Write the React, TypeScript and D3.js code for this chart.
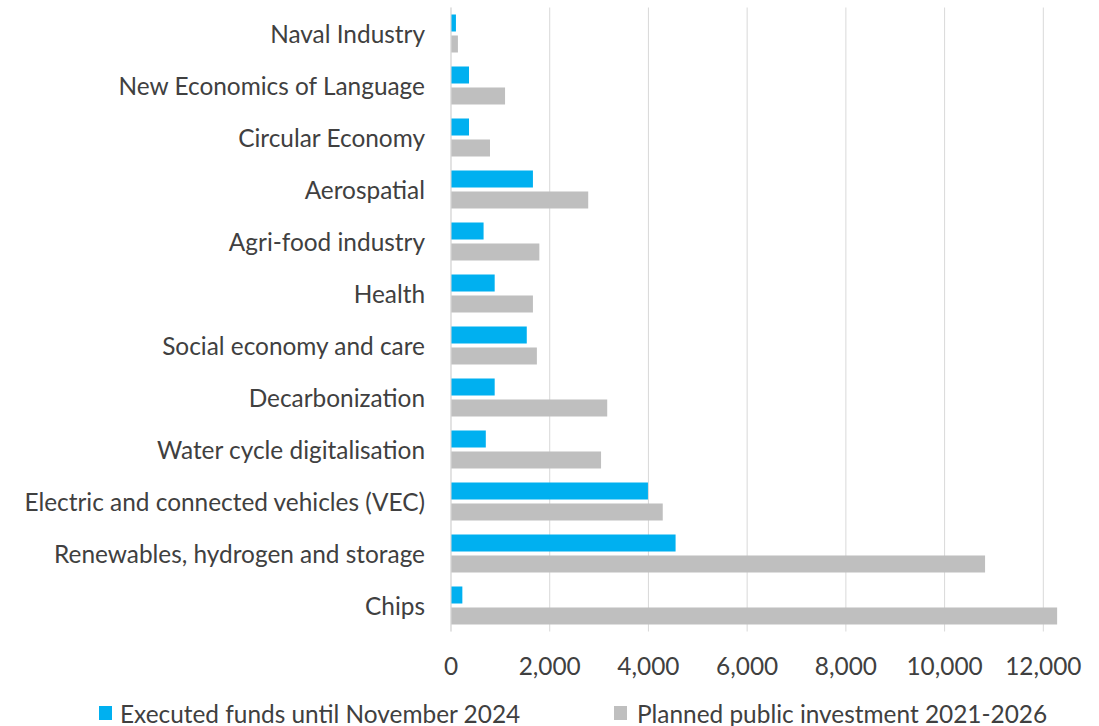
import React from "react";
import * as d3 from "d3";

const categories = [
  "Naval Industry",
  "New Economics of Language",
  "Circular Economy",
  "Aerospatial",
  "Agri-food industry",
  "Health",
  "Social economy and care",
  "Decarbonization",
  "Water cycle digitalisation",
  "Electric and connected vehicles (VEC)",
  "Renewables, hydrogen and storage",
  "Chips",
];
const executed = [100, 365, 365, 1660, 660, 885, 1535, 885, 705, 3990, 4550, 230];
const planned = [140, 1095, 790, 2780, 1790, 1660, 1740, 3165, 3040, 4290, 10820, 12280];
const seriesNames = ["Executed funds until November 2024", "Planned public investment 2021-2026"];
const seriesColors = ["#00B0F0", "#BFBFBF"];
const xTicks = [0, 2000, 4000, 6000, 8000, 10000, 12000];

const W = 1099;
const H = 726;
const left = 451;
const right = 1043.3;
const top = 7.5;
const bottom = 631.5;
const FONT = "Lato, 'Open Sans', sans-serif";
const TEXT = "#404040";
const FS = 24.4;

export default function App() {
  const x = d3.scaleLinear().domain([0, 12000]).range([left, right]);
  const y = d3.scaleBand<string>().domain(categories).range([top, bottom]).paddingInner(0).paddingOuter(0);
  const inner = d3
    .scaleBand<string>()
    .domain(["0", "1"])
    .range([7, y.bandwidth() - 7])
    .paddingInner(0.19)
    .paddingOuter(0);
  const fmt = d3.format(",");
  const series = [executed, planned];

  return (
    <svg width={W} height={H} style={{ position: "absolute", left: 0, top: 0, background: "#fff" }}>
      {xTicks.map((t) => (
        <line key={"g" + t} x1={x(t)} x2={x(t)} y1={top} y2={bottom} stroke="#D9D9D9" strokeWidth={1} />
      ))}
      {categories.map((c, i) => (
        <g key={c}>
          {series.map((s, k) => (
            <rect
              key={k}
              x={x(0)}
              y={(y(c) as number) + (inner(String(k)) as number)}
              width={x(s[i]) - x(0)}
              height={inner.bandwidth()}
              fill={seriesColors[k]}
            />
          ))}
          <text
            x={425}
            y={(y(c) as number) + y.bandwidth() / 2}
            textAnchor="end"
            dominantBaseline="central"
            fontFamily={FONT}
            fontSize={FS}
            fill={TEXT}
          >
            {c}
          </text>
        </g>
      ))}
      <line x1={x(0)} x2={x(0)} y1={top} y2={bottom} stroke="#D9D9D9" strokeWidth={1} />
      {xTicks.map((t) => (
        <text
          key={"t" + t}
          x={x(t)}
          y={665}
          textAnchor="middle"
          dominantBaseline="central"
          fontFamily={FONT}
          fontSize={FS}
          fill={TEXT}
        >
          {fmt(t)}
        </text>
      ))}
      {[
        { sx: 99, tx: 120 },
        { sx: 614, tx: 637 },
      ].map((p, k) => (
        <g key={"l" + k}>
          <rect x={p.sx} y={706} width={13} height={14} fill={seriesColors[k]} />
          <text x={p.tx} y={713} dominantBaseline="central" fontFamily={FONT} fontSize={FS} fill={TEXT}>
            {seriesNames[k]}
          </text>
        </g>
      ))}
    </svg>
  );
}
